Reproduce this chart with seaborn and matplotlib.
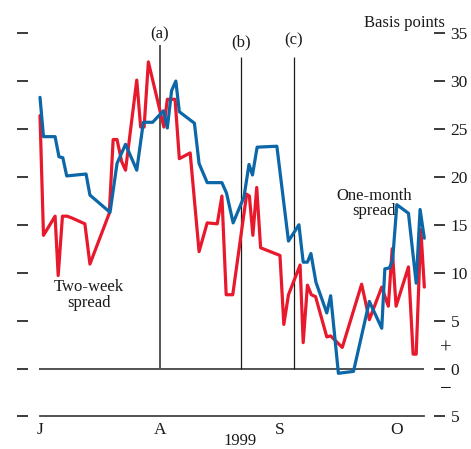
import matplotlib
matplotlib.use("Agg")
import matplotlib.pyplot as plt
import seaborn as sns
import pandas as pd

# Days counted from 1 July 1999 and spread in basis points
one_month_day = [0, 0.9, 3.9, 4.9, 5.9, 6.9, 11.9, 12.9, 18.1, 19.9, 22.1, 25.0,
                 26.7, 29.1, 31.9, 32.9, 34.0, 35.1, 36.0, 39.9, 41.1, 43.2, 47.0,
                 48.2, 49.9, 52.7, 54.0, 54.9, 56.1, 61.2, 64.2, 66.9, 68.0, 69.1,
                 70.0, 71.3, 74.1, 75.1, 77.1, 81.0, 85.1, 88.3, 89.1, 90.3, 91.1,
                 92.2, 95.2, 97.2, 98.2, 99.3]
one_month_bp = [28.3, 24.2, 24.2, 22.1, 22.0, 20.1, 20.3, 18.1, 16.3, 21.4, 23.4, 20.7,
                25.7, 25.7, 26.9, 25.1, 29.0, 30.0, 26.8, 25.6, 21.4, 19.4, 19.4,
                18.3, 15.2, 17.9, 21.3, 20.2, 23.1, 23.2, 13.3, 15.0, 11.1, 11.1,
                12.0, 9.0, 5.8, 7.6, -0.5, -0.3, 7.0, 4.2, 10.4, 10.5, 11.3,
                17.1, 16.2, 8.9, 16.6, 13.6]

two_week_day = [0, 0.9, 3.9, 4.7, 5.8, 7.0, 8.3, 11.6, 12.9, 17.9, 18.9, 19.9, 21.1,
                22.1, 25.0, 26.0, 26.9, 28.0, 32.0, 32.9, 34.9, 36.0, 38.8, 41.1,
                43.2, 45.8, 47.0, 48.1, 49.8, 53.4, 54.1, 55.0, 56.0, 57.0, 62.0,
                63.0, 64.2, 67.2, 68.0, 69.1, 70.1, 71.2, 74.1, 75.1, 78.1, 83.1,
                85.1, 88.3, 90.0, 91.0, 92.0, 95.2, 96.4, 97.2, 98.4, 99.3]
two_week_bp = [26.4, 13.9, 15.9, 9.7, 15.9, 15.9, 15.7, 15.1, 10.9, 16.2, 23.9, 23.9, 21.6,
               20.7, 30.1, 25.2, 25.2, 32.0, 25.2, 28.1, 28.1, 21.9, 22.5, 12.2,
               15.2, 15.1, 18.0, 7.7, 7.7, 18.2, 18.0, 13.9, 18.9, 12.6, 11.8,
               4.6, 7.7, 10.8, 2.7, 8.7, 7.7, 7.5, 3.3, 3.4, 2.2, 8.8,
               5.1, 8.5, 6.5, 12.5, 6.5, 10.6, 1.5, 1.5, 14.5, 8.5]

month_start = [0, 31, 62, 92]
month_labels = ["J", "A", "S", "O"]
y_ticks = [-5, 0, 5, 10, 15, 20, 25, 30, 35]
y_tick_labels = ["5", "0", "5", "10", "15", "20", "25", "30", "35"]

event_day = [31, 51.9, 65.6]
event_top = [33.8, 32.5, 32.5]
event_label = ["(a)", "(b)", "(c)"]
event_label_y = [34.9, 34.0, 34.2]

sns.set_style("white")
plt.rcParams["font.family"] = ["Liberation Serif", "DejaVu Serif"]
plt.rcParams["font.size"] = 12

df = pd.concat([
    pd.DataFrame({"day": one_month_day, "bp": one_month_bp, "series": "One-month"}),
    pd.DataFrame({"day": two_week_day, "bp": two_week_bp, "series": "Two-week"}),
])

fig = plt.figure(figsize=(4.71, 4.49), dpi=100)
ax = fig.add_axes([28 / 471, 1 - 426 / 449, (434 - 28) / 471, (426 - 14) / 449])

ink = "#1a1a1a"
# zero line and event markers
ax.hlines(0, -0.25, 99.3, color="#444444", lw=1.3, zorder=1)
ax.vlines(event_day[0], 0, event_top[0], color="#555555", lw=1.4, zorder=1)
ax.vlines(event_day[1:], 0, event_top[1:], color=ink, lw=0.9, zorder=1)
for d, y, t in zip(event_day, event_label_y, event_label):
    ax.text(d, y, t, ha="center", va="center", color=ink)

sns.lineplot(data=df, x="day", y="bp", hue="series", estimator=None, sort=False,
             palette={"One-month": "#0b67a8", "Two-week": "#e8192c"},
             hue_order=["Two-week", "One-month"],
             lw=2.3, legend=False, ax=ax, zorder=3)

ax.set_xlim(-3.1, 101.8)
ax.set_ylim(-6, 37)

for s in ["top", "left", "right"]:
    ax.spines[s].set_visible(False)
ax.spines["bottom"].set_position(("data", -5))
ax.spines["bottom"].set_bounds(0, 99.3)
ax.spines["bottom"].set_color("#444444")
ax.spines["bottom"].set_linewidth(1.3)

ax.set_xticks(month_start)
ax.set_xticklabels(month_labels)
ax.tick_params(axis="x", direction="in", length=6, width=1.3, color="#444444",
               pad=4, labelcolor=ink, labelsize=12.5)
ax.set_yticks(y_ticks)
ax.set_yticklabels(y_tick_labels)
ax.tick_params(axis="y", which="both", left=True, right=True, labelleft=False,
               labelright=True, direction="out", length=8, width=1.2,
               color=ink, pad=4, labelcolor=ink, labelsize=12.5)
ax.set_xlabel("")
ax.set_ylabel("")

ax.text(104.7, 36.06, "Basis points", ha="right", va="center", color=ink, clip_on=False)
ax.text(104.9, 2.0, "+", ha="center", va="center", color=ink, clip_on=False, fontsize=15)
ax.text(104.9, -2.2, "\u2212", ha="center", va="center", color=ink, clip_on=False,
        fontsize=15)
ax.text(12.6, 7.67, "Two-week\nspread", ha="center", va="center", color=ink,
        linespacing=0.95)
ax.text(86.3, 17.2, "One-month\nspread", ha="center", va="center", color=ink,
        linespacing=0.95)
fig.text(240 / 471, 1 - 441 / 449, "1999", ha="center", va="center", color=ink)

fig.savefig("out.png", dpi=100)
